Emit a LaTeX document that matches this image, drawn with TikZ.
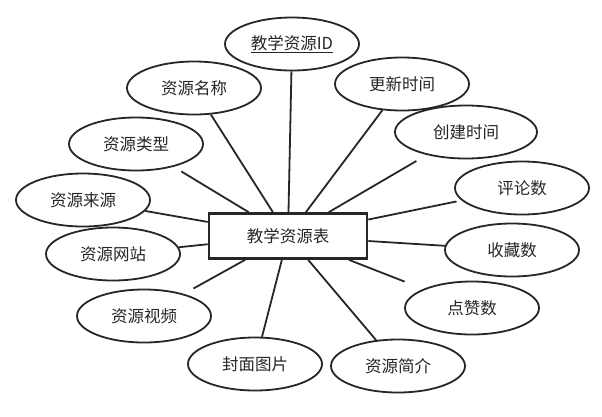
\documentclass[tikz,border=0pt]{standalone}
\usepackage{fontspec}
\setmainfont{Noto Sans CJK SC}
\usetikzlibrary{shapes.geometric}

\begin{document}
\begin{tikzpicture}[x=1pt,y=-1pt,
  attr/.style={ellipse,draw=black!85,line width=1.8pt,minimum width=134pt,minimum height=53pt,inner sep=0pt,text=black!85,font=\fontsize{16.5}{19}\selectfont},
  entity/.style={rectangle,draw=black!85,line width=2.6pt,minimum width=158pt,minimum height=45pt,text=black!85,font=\fontsize{16.5}{19}\selectfont},
  link/.style={draw=black!85,line width=1.8pt}]
\useasboundingbox (0,0) rectangle (602,416);

\node[entity] (T) at (288,236) {教学资源表};

\node[attr] (ID) at (292,44) {\underline{教学资源ID}};
\node[attr] (Name) at (194,88) {资源名称};
\node[attr] (Upd) at (402,84) {更新时间};
\node[attr] (Kind) at (136,144) {资源类型};
\node[attr,minimum width=142pt] (Crt) at (466,132) {创建时间};
\node[attr] (Cmt) at (522,188) {评论数};
\node[attr] (Src) at (83,200) {资源来源};
\node[attr] (Site) at (113,254) {资源网站};
\node[attr] (Fav) at (512,250) {收藏数};
\node[attr] (Vid) at (144,316) {资源视频};
\node[attr] (Like) at (472,308) {点赞数};
\node[attr] (Cov) at (255,364) {封面图片};
\node[attr] (Intro) at (398,366) {资源简介};

\path[link] (ID) edge (T);
\path[link] (Name) edge (T);
\path[link] (Upd) edge (T);
\path[link] (Kind) edge[shorten <=9pt] (T);
\path[link] (Crt) edge[shorten <=12pt] (T);
\path[link] (Cmt) edge[shorten <=5pt] (T);
\path[link] (Src) edge (T);
\path[link] (Site) edge (T);
\path[link] (Fav) edge (T);
\path[link] (Vid) edge[shorten <=11pt] (T);
\path[link] (Like) edge[shorten <=20pt] (T);
\path[link] (Cov) edge (T);
\path[link] (Intro) edge (T);
\end{tikzpicture}
\end{document}
